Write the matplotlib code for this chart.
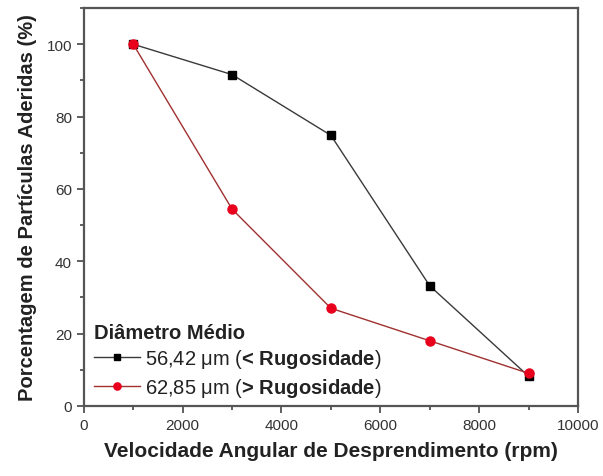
import matplotlib.pyplot as plt
from matplotlib.ticker import MultipleLocator

plt.rcParams['font.family'] = ['Liberation Sans', 'DejaVu Sans']
plt.rcParams['mathtext.fontset'] = 'custom'
plt.rcParams['mathtext.rm'] = 'Liberation Sans:bold'
plt.rcParams['mathtext.bf'] = 'Liberation Sans:bold'

rpm = [1000, 3000, 5000, 7000, 9000]
aderidas_menor = [100, 91.6, 74.8, 33.2, 8.2]
aderidas_maior = [100, 54.4, 27.0, 18.0, 9.0]
labels = [r'56,42 μm ($\text{< Rugosidade}$)',
          r'62,85 μm ($\text{> Rugosidade}$)']

fig = plt.figure(figsize=(6.03, 4.77), dpi=100)
ax = fig.add_axes([0.139, 0.147, 0.8195, 0.834])

ax.plot(rpm, aderidas_menor, color='#3a3a3a', lw=1.0, marker='s', ms=6,
        mfc='black', mec='black', label=labels[0])
ax.plot(rpm, aderidas_maior, color='#a03030', lw=1.0, marker='o', ms=6.5,
        mfc='#e8001c', mec='#e8001c', label=labels[1])

ax.set_xlim(0, 10000)
ax.set_ylim(0, 110)
ax.xaxis.set_major_locator(MultipleLocator(2000))
ax.xaxis.set_minor_locator(MultipleLocator(1000))
ax.yaxis.set_major_locator(MultipleLocator(20))
ax.yaxis.set_minor_locator(MultipleLocator(10))
ax.tick_params(which='both', direction='out', colors='#444444', labelsize=11,
               labelcolor='#333333', width=1.2)
ax.tick_params(which='major', length=5)
ax.tick_params(which='minor', length=3)
for s in ax.spines.values():
    s.set_color('#555555')
    s.set_linewidth(1.6)

ax.set_xlabel('Velocidade Angular de Desprendimento (rpm)', fontsize=15,
              fontweight='bold', color='#222222', labelpad=7)
ax.set_ylabel('Porcentagem de Partículas Aderidas (%)', fontsize=14.5,
              fontweight='bold', color='#222222', labelpad=7)

leg = ax.legend(loc='lower left', bbox_to_anchor=(0.0, -0.008), frameon=False,
                title='Diâmetro Médio', alignment='left', fontsize=14.5,
                title_fontproperties={'weight': 'bold', 'size': 14.5},
                handlelength=2.3, handletextpad=0.25, labelspacing=0.28,
                borderpad=0.2, borderaxespad=0.3, markerscale=0.8)
for t in leg.get_texts():
    t.set_color('#222222')
leg.get_title().set_color('#222222')

fig.savefig('out.png', dpi=100)
